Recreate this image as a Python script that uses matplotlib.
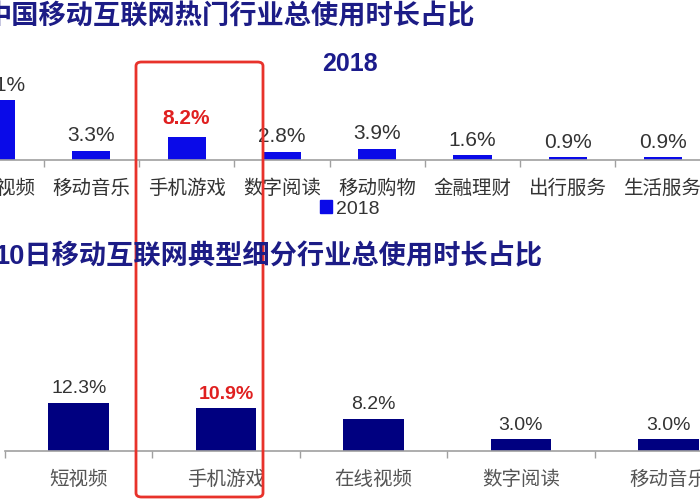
"""Two cropped bar charts: share of total mobile internet usage time by sector."""

import matplotlib.pyplot as plt
from matplotlib.patches import FancyBboxPatch, Patch
from matplotlib.ticker import FixedLocator

plt.rcParams['font.family'] = ['Liberation Sans', 'Noto Sans CJK SC', 'DejaVu Sans']

# Top chart: 2018 hot sectors
top_cats = ['在线视频', '移动音乐', '手机游戏', '数字阅读', '移动购物', '金融理财', '出行服务', '生活服务']
top_vals = [21.1, 3.3, 8.2, 2.8, 3.9, 1.6, 0.9, 0.9]
top_title = '中国移动互联网热门行业总使用时长占比'
top_series = '2018'

# Bottom chart: typical sub-sectors
bot_cats = ['短视频', '手机游戏', '在线视频', '数字阅读', '移动音乐']
bot_vals = [12.3, 10.9, 8.2, 3.0, 3.0]
bot_title = '10日移动互联网典型细分行业总使用时长占比'

highlight = '手机游戏'

W, H = 700, 500
fig = plt.figure(figsize=(7, 5), dpi=100)
fig.patch.set_facecolor('white')


def px_axes(left, base, width, height):
    # left / width in px from the left, base = axis line in px from the top
    return fig.add_axes([left / W, 1 - base / H, width / W, height / H])


def style(ax, n, color, labelsize, pad):
    for s in ['top', 'right', 'left']:
        ax.spines[s].set_visible(False)
    ax.spines['bottom'].set_color('#a0a0a0')
    ax.spines['bottom'].set_linewidth(1.2)
    ax.set_yticks([])
    ax.set_xlim(-0.5, n - 0.5)
    ax.xaxis.set_minor_locator(FixedLocator([i + 0.5 for i in range(-1, n)]))
    ax.tick_params(axis='x', which='major', length=0, pad=pad,
                   labelsize=labelsize, labelcolor=color)
    ax.tick_params(axis='x', which='minor', length=5, color='#a0a0a0', width=1)
    ax.patch.set_alpha(0)


# top chart
step_t = 95.3
ax1 = px_axes(-4 - step_t / 2, 160, step_t * len(top_cats), 25 * 2.84)
ax1.set_ylim(0, 25)
x1 = range(len(top_cats))
ax1.bar(x1, top_vals, width=0.4, color='#0a0ae8')
ax1.set_xticks(list(x1))
ax1.set_xticklabels(top_cats)
style(ax1, len(top_cats), '#333333', 14, 14)
for i, v in enumerate(top_vals):
    red = top_cats[i] == highlight
    ax1.annotate('{:.1f}%'.format(v), (i, v), xytext=(0, 6 if red else 4),
                 textcoords='offset points', ha='center', va='bottom',
                 fontsize=15, color='#e02020' if red else '#333333',
                 fontweight='bold' if red else 'normal')

# bottom chart
step_b = 147.4
ax2 = px_axes(78.7 - step_b / 2, 451, step_b * len(bot_cats), 15 * 3.93)
ax2.set_ylim(0, 15)
x2 = range(len(bot_cats))
ax2.bar(x2, bot_vals, width=0.41, color='#000080')
ax2.set_xticks(list(x2))
ax2.set_xticklabels(bot_cats)
style(ax2, len(bot_cats), '#555555', 14, 14)
for i, v in enumerate(bot_vals):
    red = bot_cats[i] == highlight
    ax2.annotate('{:.1f}%'.format(v), (i, v), xytext=(0, 4),
                 textcoords='offset points', ha='center', va='bottom',
                 fontsize=14, color='#e02020' if red else '#333333',
                 fontweight='bold' if red else 'normal')

# titles
fig.text(475 / W, 1 - 17 / H, top_title, ha='right', va='center',
         fontsize=19.6, fontweight='bold', color='#1c1c86')
fig.text(542 / W, 1 - 257 / H, bot_title, ha='right', va='center',
         fontsize=19.6, fontweight='bold', color='#1c1c86')
fig.text(350 / W, 1 - 64 / H, top_series, ha='center', va='center',
         fontsize=18, fontweight='bold', color='#1c1c8c')

# legend
fig.legend(handles=[Patch(color='#0a0ae8', label=top_series)],
           loc='center', bbox_to_anchor=(350 / W, 1 - 209 / H), frameon=False,
           fontsize=14, handlelength=0.6, handleheight=0.6, handletextpad=0.2,
           labelcolor='#333333')

# red highlight frame
box = FancyBboxPatch((136 / W, 1 - 497 / H), 127 / W, 435 / H,
                     boxstyle='round,pad=0,rounding_size=0.008',
                     transform=fig.transFigure, fill=False,
                     edgecolor='#e8322b', linewidth=2)
fig.patches.append(box)

fig.savefig('out.png', dpi=100)
